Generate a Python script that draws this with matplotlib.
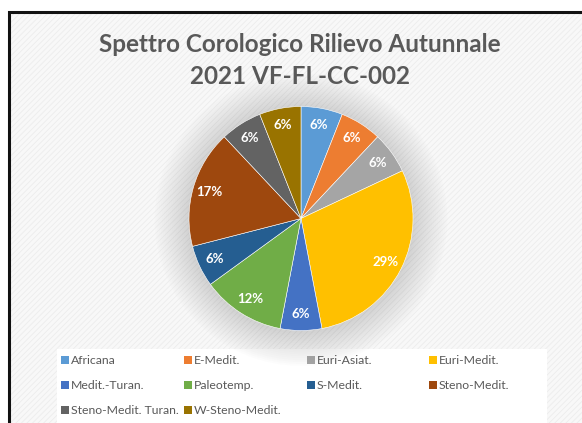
import matplotlib
matplotlib.use("Agg")
import matplotlib.pyplot as plt
from matplotlib.patches import Rectangle, Circle

categories = ["Africana", "E-Medit.", "Euri-Asiat.", "Euri-Medit.", "Medit.-Turan.",
              "Paleotemp.", "S-Medit.", "Steno-Medit.", "Steno-Medit. Turan.", "W-Steno-Medit."]
values = [6, 6, 6, 29, 6, 12, 6, 17, 6, 6]
colors = ["#5B9BD5", "#ED7D31", "#A5A5A5", "#FFC000", "#4472C4",
          "#70AD47", "#255E91", "#9E480E", "#636363", "#997300"]

W, H = 582, 423
plt.rcParams['hatch.linewidth'] = 0.6
fig = plt.figure(figsize=(W / 100, H / 100), dpi=100)
fig.patch.set_facecolor("white")

def fx(px):
    return px / W

def fy(py):
    return 1 - py / H

# chart area background with fine diagonal texture
fig.patches.append(Rectangle((fx(9), fy(440)), fx(600) - fx(9), fy(12) - fy(440),
                             transform=fig.transFigure, facecolor="#f8f8f8",
                             edgecolor="none", zorder=0))
fig.patches.append(Rectangle((fx(10), fy(440)), fx(600) - fx(10), fy(13) - fy(440),
                             transform=fig.transFigure, facecolor="none",
                             edgecolor="#ececec", hatch="//////", linewidth=0, zorder=0))
# legend white area
fig.patches.append(Rectangle((fx(57), fy(430)), fx(547) - fx(57), fy(349) - fy(430),
                             transform=fig.transFigure, facecolor="#ffffff",
                             edgecolor="none", zorder=1))
# border
fig.patches.append(Rectangle((fx(9), fy(440)), fx(600) - fx(9), fy(12) - fy(440),
                             transform=fig.transFigure, facecolor="none",
                             edgecolor="#111111", linewidth=2.2, zorder=2))

# pie axes
cx, cy, R = 301, 218.5, 112
half = 150
ax = fig.add_axes([fx(cx - half), fy(cy + half), 2 * half / W, 2 * half / H])
ax.set_zorder(5)
ax.set_facecolor("none")
ax.patch.set_alpha(0)
lim = half / R

# soft shadow
for k in range(18):
    r = 1.0 + 0.017 * (k + 1)
    ax.add_patch(Circle((0.0, -0.01), r, facecolor="#a0a0a0", alpha=0.022,
                        edgecolor="none", zorder=0))

wedges, texts, autotexts = ax.pie(values, colors=colors, startangle=90, counterclock=False,
                                  radius=1.0, autopct="%d%%", pctdistance=0.85,
                                  wedgeprops=dict(edgecolor="white", linewidth=0.4),
                                  textprops=dict(color="white", fontsize=9.5,
                                                 fontweight="bold", family="Lato"))
for w in wedges:
    w.set_zorder(2)
for t in autotexts:
    t.set_zorder(3)
ax.set_xlim(-lim, lim)
ax.set_ylim(-lim, lim)
ax.set_aspect("equal")
ax.axis("off")

# title
fig.text(fx(300), fy(44), "Spettro Corologico Rilievo Autunnale", ha="center", va="center",
         fontsize=17.5, fontweight="bold", color="#595959", family="Lato", zorder=6)
fig.text(fx(300), fy(77), "2021 VF-FL-CC-002", ha="center", va="center",
         fontsize=17.5, fontweight="bold", color="#595959", family="Lato", zorder=6)

# legend
col_x = [61, 184, 307, 429]
row_y = [360, 385, 410]
for i, (cat, col) in enumerate(zip(categories, colors)):
    r, c = divmod(i, 4)
    x0, y0 = col_x[c], row_y[r]
    fig.patches.append(Rectangle((fx(x0), fy(y0 + 4)), 8 / W, 8 / H,
                                 transform=fig.transFigure, facecolor=col,
                                 edgecolor="none", zorder=3))
    fig.text(fx(x0 + 10), fy(y0), cat, ha="left", va="center", fontsize=8.8,
             color="#595959", family="Lato", zorder=6)

fig.savefig("out.png", dpi=100, facecolor=fig.get_facecolor())
